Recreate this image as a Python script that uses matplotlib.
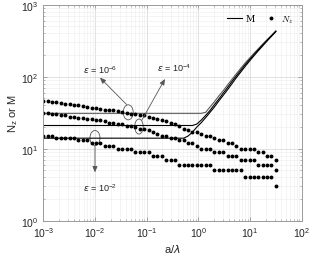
import matplotlib
matplotlib.use("Agg")
import matplotlib.pyplot as plt
from matplotlib.lines import Line2D
from matplotlib.patches import Ellipse
from matplotlib.transforms import ScaledTranslation
from matplotlib.font_manager import FontProperties

plt.rcParams['font.family'] = ['Liberation Sans', 'DejaVu Sans']

# ---------------- data ----------------
a_over_lambda = [0.001, 0.001216, 0.001479, 0.001798, 0.002186, 0.002658, 0.003232, 0.003929,
                 0.004778, 0.005809, 0.007063, 0.008588, 0.01044, 0.0127, 0.01544, 0.01877,
                 0.02283, 0.02775, 0.03375, 0.04104, 0.0499, 0.06067, 0.07378, 0.08971,
                 0.1091, 0.1326, 0.1613, 0.1961, 0.2385, 0.29, 0.3526, 0.4287,
                 0.5212, 0.6338, 0.7706, 0.937, 1.139, 1.385, 1.684, 2.048,
                 2.49, 3.028, 3.682, 4.477, 5.443, 6.619, 8.048, 9.785,
                 11.9, 14.47, 17.59, 21.39, 26.01, 31.62]

# Nz for eps = 1e-6, 1e-4, 1e-2
Nz_eps6 = [46, 46, 45, 44, 43, 42, 42, 41, 40, 39, 38, 37, 37, 36, 35, 34, 34, 33,
           32, 31, 30, 30, 29, 29, 28, 27, 26, 25, 24, 23, 22, 21, 19, 18, 17, 17,
           16, 15, 15, 14, 13, 13, 12, 12, 11, 10, 10, 10, 10, 9, 9, 8, 8, 7]
Nz_eps4 = [31, 31, 30, 30, 29, 29, 28, 28, 27, 27, 26, 26, 25, 25, 24, 23, 23, 22,
           22, 21, 21, 20, 19, 19, 18, 17, 16, 15, 15, 14, 14, 13, 13, 12, 12, 11,
           10, 10, 10, 9, 9, 9, 8, 8, 8, 7, 7, 7, 7, 6, 6, 6, 6, 5]
Nz_eps2 = [15, 15, 15, 14, 14, 14, 14, 14, 13, 13, 13, 12, 12, 12, 11, 11, 11, 10,
           10, 10, 10, 9, 9, 9, 9, 8, 8, 8, 7, 7, 7, 6, 6, 6, 6, 6,
           6, 6, 6, 5, 5, 5, 5, 5, 5, 5, 4, 4, 4, 4, 4, 4, 4, 3]

# M for eps = 1e-6, 1e-4, 1e-2
M_eps6 = [31] * 37 + [32, 38, 45, 54, 64, 77, 92, 110, 131, 155, 181, 211, 245, 284, 327, 376, 433]
M_eps4 = [21] * 35 + [22, 25, 29, 34, 41, 49, 59, 71, 86, 103, 123, 147, 173, 203, 237, 276, 320, 370, 428]
M_eps2 = [14] * 33 + [15, 17, 20, 23, 27, 32, 38, 46, 55, 66, 80, 97, 116, 139, 165, 195, 229, 268, 313, 364, 423]

eps_labels = [r'$\epsilon$ = 10$^{\mathregular{-6}}$',
              r'$\epsilon$ = 10$^{\mathregular{-4}}$',
              r'$\epsilon$ = 10$^{\mathregular{-2}}$']

# ---------------- figure ----------------
fig = plt.figure(figsize=(3.34, 2.55), dpi=100)
ax = fig.add_axes([0.1296, 0.1306, 0.7737, 0.847])

ax.set_xscale('log')
ax.set_yscale('log')
ax.set_xlim(1e-3, 1e2)
ax.set_ylim(1e0, 1e3)

ax.grid(True, which='major', color='#d4d4d4', lw=0.5)
ax.grid(True, which='minor', color='#ececec', lw=0.4)
ax.set_axisbelow(True)

for s in ax.spines.values():
    s.set_color('#9a9a9a')
    s.set_linewidth(0.7)
ax.tick_params(which='both', direction='in', top=True, right=True, color='#8a8a8a',
               labelsize=7.5, labelcolor='#262626')
ax.tick_params(which='major', length=3, width=0.5)
ax.tick_params(which='minor', length=1.6, width=0.4)

# M lines
ax.plot(a_over_lambda, M_eps6, color='#5a5a5a', lw=0.8)
ax.plot(a_over_lambda, M_eps4, color='black', lw=0.8)
ax.plot(a_over_lambda, M_eps2, color='black', lw=0.8)

# Nz dots
for nz in (Nz_eps6, Nz_eps4, Nz_eps2):
    ax.plot(a_over_lambda, nz, ls='none', marker='o', ms=2.8, mfc='black', mec='black', mew=0)

ax.set_xlabel(r'a/$\lambda$', fontsize=8, color='#262626', labelpad=2)
ax.set_ylabel(r'N$_{\mathregular{z}}$ or M', fontsize=8, color='#262626', labelpad=1)

# ellipses marking crossings
ell_centers = [(0.044, 32.0), (0.071, 20.3), (0.010, 14.1)]
ell_sizes = [(0.10, 0.15), (0.085, 0.15), (0.10, 0.15)]
for (cx, cy), (w, h) in zip(ell_centers, ell_sizes):
    tr = fig.dpi_scale_trans + ScaledTranslation(cx, cy, ax.transData)
    ax.add_patch(Ellipse((0, 0), w, h, transform=tr, fill=False, ec='#555555', lw=0.6))

# arrows and labels
arrow_kw = dict(arrowstyle='-|>,head_length=0.35,head_width=0.15', color='#555555', lw=0.6,
                shrinkA=0, shrinkB=0)
ax.annotate('', xy=(0.0125, 97.0), xytext=(0.041, 41.0), arrowprops=arrow_kw)
ax.annotate('', xy=(0.226, 93.0), xytext=(0.081, 25.0), arrowprops=arrow_kw)
ax.annotate('', xy=(0.010, 4.7), xytext=(0.010, 11.0), arrowprops=arrow_kw)

ax.text(0.0125, 128, eps_labels[0], fontsize=6.5, ha='center', va='center', color='#262626')
ax.text(0.345, 136, eps_labels[1], fontsize=6.5, ha='center', va='center', color='#262626')
ax.text(0.0125, 2.94, eps_labels[2], fontsize=6.5, ha='center', va='center', color='#262626')

# legend
handles = [Line2D([], [], color='black', lw=0.8),
           Line2D([], [], ls='none', marker='o', ms=2.8, mfc='black', mec='black', mew=0)]
prop = FontProperties(family='DejaVu Serif', size=6.5, math_fontfamily='cm')
ax.legend(handles, ['M', r'$N_z$'], prop=prop, ncol=2, frameon=False,
          loc='upper right', bbox_to_anchor=(0.99, 0.985), handlelength=1.6,
          handletextpad=0.4, columnspacing=1.0, borderaxespad=0.2)

fig.savefig('out.png', dpi=100)
